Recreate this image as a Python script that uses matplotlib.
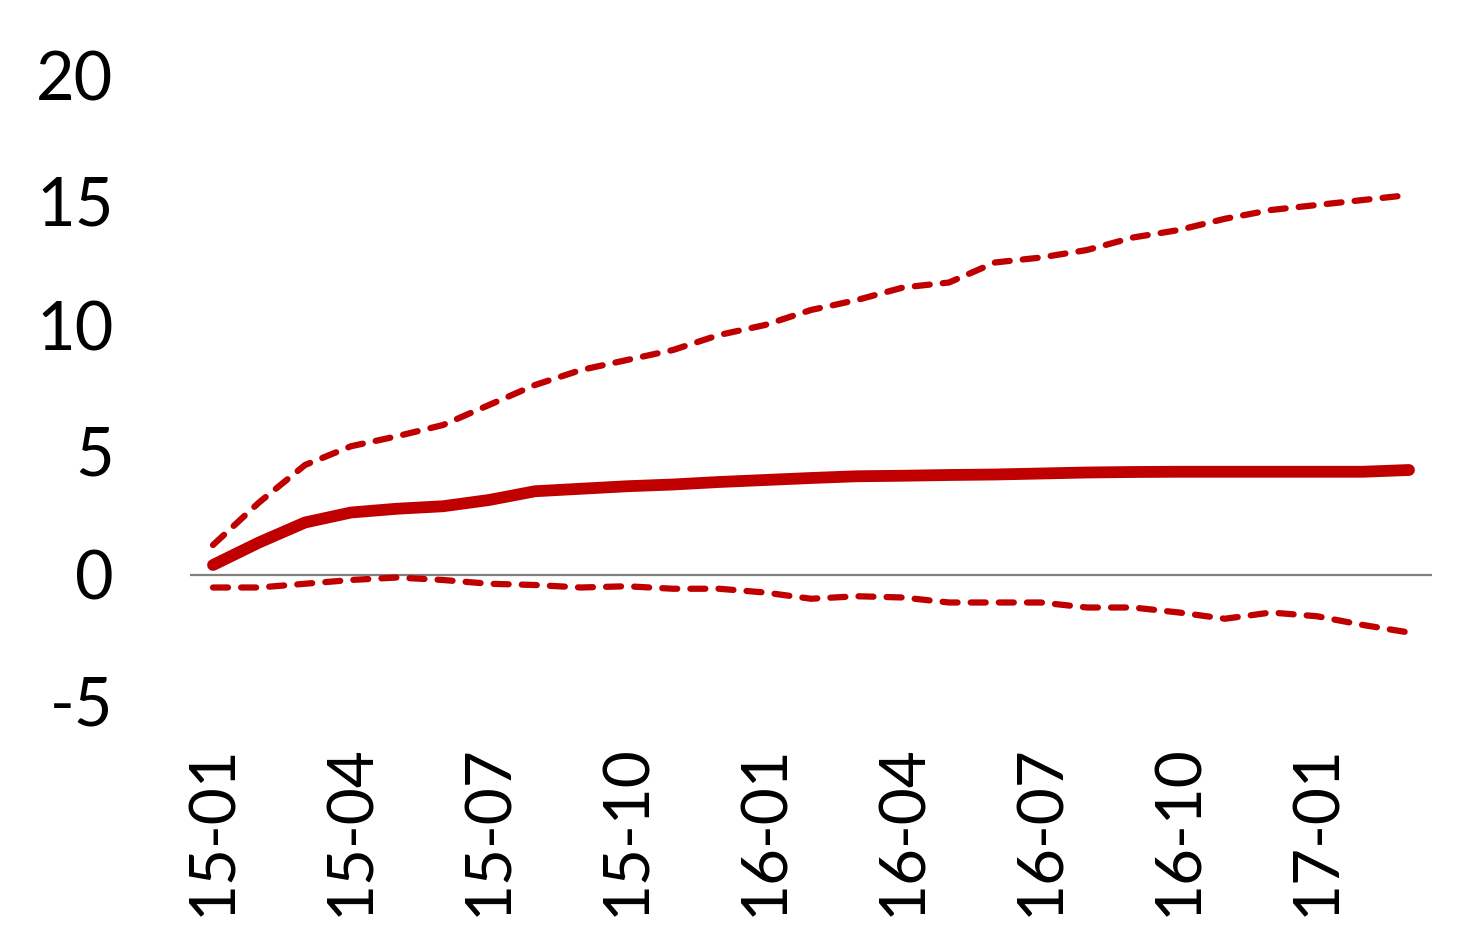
import matplotlib
matplotlib.use("Agg")
import matplotlib.pyplot as plt
import numpy as np

plt.rcParams['font.family'] = ['Lato', 'DejaVu Sans']

months = ["15-01","15-02","15-03","15-04","15-05","15-06","15-07","15-08","15-09",
          "15-10","15-11","15-12","16-01","16-02","16-03","16-04","16-05","16-06",
          "16-07","16-08","16-09","16-10","16-11","16-12","17-01","17-02","17-03"]
central = [0.4, 1.3, 2.1, 2.5, 2.65, 2.75, 3.0, 3.35, 3.45, 3.55, 3.62, 3.72, 3.8,
           3.88, 3.95, 3.97, 4.0, 4.02, 4.06, 4.1, 4.12, 4.13, 4.13, 4.13, 4.13, 4.13, 4.2]
upper = [1.2, 2.9, 4.4, 5.15, 5.55, 6.0, 6.8, 7.6, 8.2, 8.6, 9.0, 9.6, 10.0,
         10.6, 11.0, 11.5, 11.7, 12.5, 12.7, 13.0, 13.5, 13.8, 14.25, 14.6, 14.8, 15.0, 15.2]
lower = [-0.5, -0.5, -0.35, -0.2, -0.1, -0.2, -0.35, -0.4, -0.5, -0.45, -0.55, -0.55, -0.7,
         -0.95, -0.85, -0.9, -1.1, -1.1, -1.1, -1.3, -1.3, -1.5, -1.75, -1.5, -1.65, -2.0, -2.3]
yticks = [-5, 0, 5, 10, 15, 20]

red = "#C00000"
fig = plt.figure(figsize=(14.82, 9.47), dpi=100)
ax = fig.add_axes([190/1482, 1-700/947, (1432-190)/1482, (700-75)/947])

x = np.arange(len(months))
ax.axhline(0, color="#808080", lw=1.6, zorder=1)
ax.plot(x, central, color=red, lw=8.5, solid_capstyle="round", solid_joinstyle="round", zorder=3)
for s in (upper, lower):
    ax.plot(x, s, color=red, lw=4.5, dash_capstyle="round", dashes=(2.4, 2.1), zorder=2)

ax.set_xlim(-0.5, len(months)-0.5)
ax.set_ylim(-5, 20)
ax.set_yticks(yticks)
ax.set_yticklabels([str(v) for v in yticks], fontsize=48)
ax.set_xticks(x[::3])
ax.set_xticklabels(months[::3], rotation=90, fontsize=46)
ax.tick_params(axis="both", length=0)
ax.tick_params(axis="y", pad=55)
ax.tick_params(axis="x", pad=32)
for sp in ax.spines.values():
    sp.set_visible(False)

fig.savefig("out.png", dpi=100)
